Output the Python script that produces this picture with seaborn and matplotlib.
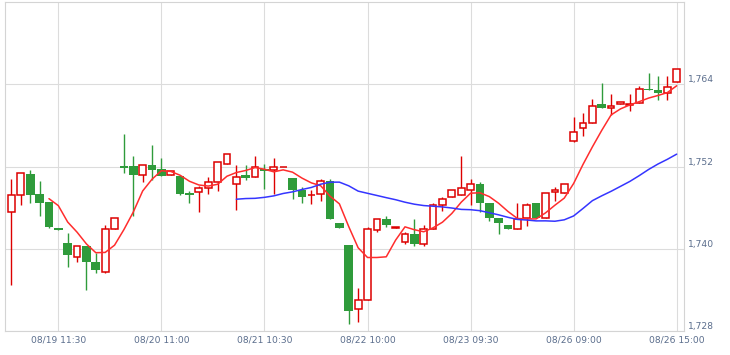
import numpy as np
import pandas as pd
import matplotlib
matplotlib.use('Agg')
import matplotlib.pyplot as plt
import matplotlib.transforms as mtransforms
import seaborn as sns

# candle data (one candle per bar)
open_ = [1745.3, 1747.8, 1750.9, 1748.0, 1746.8, 1743.0, 1740.8, 1738.8, 1740.4, 1738.1,
         1736.6, 1742.9, 1752.1, 1752.1, 1750.8, 1752.2, 1751.6, 1750.7, 1750.6, 1748.1,
         1748.2, 1748.8, 1749.8, 1752.3, 1749.4, 1750.7, 1750.5, 1751.7, 1751.5, 1751.9,
         1750.3, 1748.6, 1747.8, 1748.0, 1749.9, 1743.7, 1740.5, 1731.1, 1732.5, 1742.7,
         1744.3, 1743.05, 1741.0, 1742.2, 1740.7, 1742.9, 1746.4, 1747.6, 1747.8, 1748.6,
         1749.4, 1746.7, 1744.4, 1743.5, 1742.9, 1744.4, 1746.7, 1744.4, 1748.2, 1748.1,
         1755.7, 1757.6, 1758.3, 1761.1, 1760.5, 1761.1, 1761.0, 1761.3, 1763.3, 1763.2,
         1762.7, 1764.4]
high = [1750.2, 1751.1, 1751.5, 1749.9, 1746.8, 1743.0, 1742.3, 1740.4, 1740.4, 1739.3,
        1743.4, 1744.4, 1756.8, 1753.5, 1752.2, 1755.1, 1753.2, 1751.3, 1750.6, 1748.4,
        1749.2, 1750.4, 1752.6, 1753.9, 1752.2, 1752.2, 1753.5, 1752.3, 1753.3, 1752.0,
        1750.3, 1749.0, 1748.5, 1750.1, 1750.1, 1743.7, 1740.5, 1734.3, 1743.1, 1744.3,
        1744.7, 1743.1, 1742.4, 1744.3, 1743.4, 1746.7, 1747.5, 1748.6, 1753.5, 1750.1,
        1749.7, 1746.7, 1744.4, 1743.5, 1746.6, 1746.7, 1746.7, 1748.1, 1749.0, 1749.5,
        1759.2, 1759.8, 1761.8, 1764.2, 1762.6, 1761.5, 1762.6, 1763.8, 1765.6, 1765.2,
        1765.2, 1766.2]
low = [1734.7, 1746.4, 1746.7, 1744.8, 1743.0, 1742.7, 1737.3, 1738.0, 1734.0, 1736.4,
       1736.4, 1742.9, 1751.1, 1744.8, 1749.8, 1750.0, 1750.6, 1750.7, 1747.8, 1746.7,
       1745.3, 1748.0, 1748.4, 1752.3, 1745.6, 1750.0, 1750.5, 1748.7, 1748.0, 1751.9,
       1747.2, 1746.6, 1746.5, 1747.0, 1744.3, 1743.0, 1729.0, 1729.2, 1732.5, 1742.4,
       1743.2, 1743.05, 1740.7, 1740.4, 1740.4, 1742.9, 1745.5, 1747.6, 1747.8, 1746.4,
       1745.4, 1744.0, 1742.2, 1742.9, 1742.9, 1743.3, 1744.4, 1744.4, 1746.9, 1748.1,
       1755.6, 1756.4, 1758.3, 1760.6, 1759.5, 1761.1, 1760.1, 1761.3, 1763.2, 1761.7,
       1761.7, 1764.4]
close = [1747.8, 1751.1, 1747.8, 1746.6, 1743.2, 1742.7, 1739.1, 1740.4, 1738.0, 1736.8,
         1742.9, 1744.4, 1751.8, 1750.8, 1752.2, 1751.5, 1750.6, 1751.3, 1748.0, 1747.8,
         1748.8, 1749.8, 1752.6, 1753.9, 1750.5, 1750.3, 1751.9, 1751.4, 1752.0, 1751.95,
         1748.6, 1747.6, 1747.9, 1749.9, 1744.3, 1743.0, 1730.9, 1732.5, 1742.8, 1744.3,
         1743.5, 1743.1, 1742.2, 1740.7, 1742.8, 1746.4, 1747.2, 1748.6, 1748.9, 1749.4,
         1746.7, 1744.4, 1743.7, 1742.9, 1744.3, 1746.4, 1744.4, 1748.1, 1748.5, 1749.5,
         1757.1, 1758.3, 1760.9, 1760.6, 1760.8, 1761.5, 1761.2, 1763.3, 1763.2, 1762.7,
         1763.6, 1766.2]

tick_labels = ['08/19 11:30', '08/20 11:00', '08/21 10:30', '08/22 10:00',
               '08/23 09:30', '08/26 09:00', '08/26 15:00']
y_ticks = [1728, 1740, 1752, 1764]

up_col = '#dd0000'
down_col = '#2f9b3b'
label_col = '#5a6d8c'
grid_col = '#dcdcdc'

d = pd.DataFrame({'open': open_, 'high': high, 'low': low, 'close': close})
d['idx'] = np.arange(len(d))
d['ma5'] = d['close'].rolling(5).mean()
d['ma25'] = d['close'].rolling(25).mean()
up = d[d['close'] >= d['open']]
down = d[d['close'] < d['open']]

sns.set_style('white')
plt.rcParams['font.family'] = ['DejaVu Sans']

fig = plt.figure(figsize=(7.3, 3.55), dpi=100)
ax = fig.add_axes([5.3/730, 1 - 330.7/355, (684 - 5.3)/730, (330.7 - 2.3)/355])

# wicks
ax.vlines(up['idx'], up['low'], up['high'], color=up_col, lw=1.0, zorder=2)
ax.vlines(down['idx'], down['low'], down['high'], color=down_col, lw=1.0, zorder=2)
# bodies
ax.bar(down['idx'], down['open'] - down['close'], bottom=down['close'], width=0.92,
       color=down_col, lw=0, zorder=3)
ax.bar(up['idx'], (up['close'] - up['open']).clip(lower=0.05), bottom=up['open'], width=0.72,
       facecolor='white', edgecolor=up_col, lw=1.1, zorder=3)

# moving averages
sns.lineplot(data=d, x='idx', y='ma5', color='#ff2d2d', lw=1.1, ax=ax, zorder=4)
sns.lineplot(data=d, x='idx', y='ma25', color='#3535ff', lw=1.1, ax=ax, zorder=4)

ax.set_xlim(-0.66, 71.78)
ax.set_ylim(1728, 1776)
ax.set_xticks([5 + 11 * i for i in range(len(tick_labels))])
ax.set_xticklabels(tick_labels)
ax.set_yticks(y_ticks)
ax.set_yticklabels([f'{v:,}' for v in y_ticks])
ax.yaxis.tick_right()
ax.tick_params(axis='both', length=0, labelsize=6.6, colors=label_col)
ax.tick_params(axis='x', pad=3.5)
ax.tick_params(axis='y', pad=2.8)
ax.set_xlabel('')
ax.set_ylabel('')
ax.grid(True, color=grid_col, lw=0.8)
ax.set_axisbelow(True)
for s in ax.spines.values():
    s.set_color('#d4d4d4')
    s.set_linewidth(0.8)

# y labels sit a bit above their grid line
offset = mtransforms.ScaledTranslation(0, 0.055, fig.dpi_scale_trans)
for lab in ax.get_yticklabels():
    lab.set_transform(lab.get_transform() + offset)

plt.savefig('out.png', dpi=100)
